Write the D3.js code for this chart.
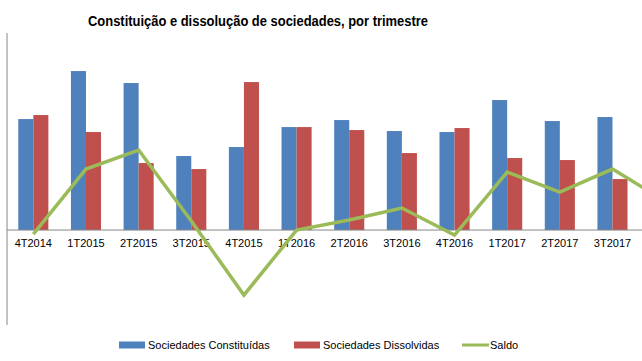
<!DOCTYPE html>
<html>
<head>
<meta charset="utf-8">
<script src="https://cdnjs.cloudflare.com/ajax/libs/d3/7.8.5/d3.min.js"></script>
<style>
  body { margin: 0; background: #fff; }
  text { font-family: "Liberation Sans", Arial, sans-serif; }
</style>
</head>
<body>
<div id="chart"></div>
<script>
// quarters (the last one sits mostly outside the visible frame)
const quarters = ["4T2014", "1T2015", "2T2015", "3T2015", "4T2015", "1T2016", "2T2016",
                  "3T2016", "4T2016", "1T2017", "2T2017", "3T2017", "4T2017"];
const constituidas = [4675, 6697, 6192, 3117, 3496, 4338, 4633, 4170, 4128, 5476, 4591, 4760, 4500];
const dissolvidas  = [4844, 4128, 2822, 2569, 6234, 4338, 4212, 3243, 4296, 3033, 2948, 2148, 3300];
const saldo        = [-168, 2569, 3370, 379, -2738, 0, 421, 927, -211, 2443, 1600, 2569, 1221];

const seriesNames = ["Sociedades Constituídas", "Sociedades Dissolvidas", "Saldo"];
const colors = ["#4F81BD", "#C0504D", "#9BBB59"];

const W = 642, H = 361;
const left = 7, step = 52.65;

const svg = d3.select("#chart").append("svg")
    .attr("width", W)
    .attr("height", H);

// scales
const x = d3.scaleBand()
    .domain(quarters)
    .range([left, left + quarters.length * step])
    .padding(0);

const xInner = d3.scaleBand()
    .domain([0, 1])
    .range([0, x.bandwidth()])
    .paddingInner(0)
    .paddingOuter(0.75);

const y = d3.scaleLinear()
    .domain([-4000, 8300])
    .range([325, 33]);

// title
svg.append("text")
    .attr("x", 258)
    .attr("y", 26)
    .attr("text-anchor", "middle")
    .attr("textLength", 340)
    .attr("lengthAdjust", "spacingAndGlyphs")
    .style("font-size", "14px")
    .style("font-weight", "bold")
    .text("Constituição e dissolução de sociedades, por trimestre");

// bars
const groups = svg.selectAll("g.grp")
    .data(quarters)
    .enter().append("g")
    .attr("class", "grp")
    .attr("transform", d => `translate(${x(d)},0)`);

groups.selectAll("rect")
    .data((d, i) => [constituidas[i], dissolvidas[i]])
    .enter().append("rect")
    .attr("x", (d, j) => xInner(j))
    .attr("width", xInner.bandwidth())
    .attr("y", d => y(Math.max(0, d)))
    .attr("height", d => Math.abs(y(d) - y(0)))
    .attr("fill", (d, j) => colors[j]);

// axes lines (no tick labels on value axis)
svg.append("line")
    .attr("x1", left).attr("x2", W)
    .attr("y1", y(0)).attr("y2", y(0))
    .attr("stroke", "#868686")
    .attr("stroke-width", 1);

svg.append("line")
    .attr("x1", left).attr("x2", left)
    .attr("y1", y.range()[1]).attr("y2", y.range()[0])
    .attr("stroke", "#868686")
    .attr("stroke-width", 1);

// category labels next to the zero line (only those inside the frame)
svg.selectAll("text.cat")
    .data(quarters.filter(d => x(d) + x.bandwidth() / 2 < W))
    .enter().append("text")
    .attr("class", "cat")
    .attr("x", d => x(d) + x.bandwidth() / 2)
    .attr("y", y(0) + 17)
    .attr("text-anchor", "middle")
    .style("font-size", "11px")
    .attr("fill", "#000")
    .text(d => d);

// saldo line
const line = d3.line()
    .x((d, i) => x(quarters[i]) + x.bandwidth() / 2)
    .y(d => y(d));

svg.append("path")
    .datum(saldo)
    .attr("d", line)
    .attr("fill", "none")
    .attr("stroke", colors[2])
    .attr("stroke-width", 3.5)
    .attr("stroke-linejoin", "miter");

// legend
const legendX = [119, 294, 462];
const leg = svg.selectAll("g.leg")
    .data(seriesNames)
    .enter().append("g")
    .attr("class", "leg")
    .attr("transform", (d, i) => `translate(${legendX[i]},345)`);

leg.each(function (d, i) {
    const g = d3.select(this);
    if (i < 2) {
        g.append("rect")
            .attr("x", 0).attr("y", -3.5)
            .attr("width", 26).attr("height", 7)
            .attr("fill", colors[i]);
    } else {
        g.append("line")
            .attr("x1", 0).attr("x2", 27)
            .attr("y1", 0).attr("y2", 0)
            .attr("stroke", colors[i])
            .attr("stroke-width", 3);
    }
    g.append("text")
        .attr("x", i < 2 ? 29 : 28)
        .attr("y", 4)
        .style("font-size", "11px")
        .text(d);
});
</script>
</body>
</html>
